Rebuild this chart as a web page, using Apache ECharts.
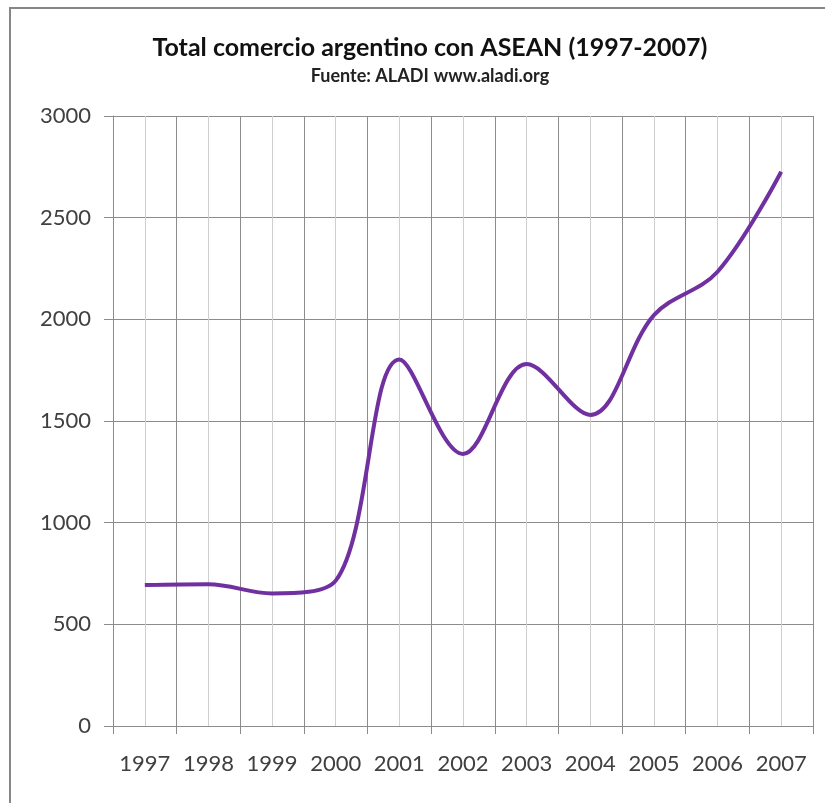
<!DOCTYPE html>
<html>
<head>
<meta charset="utf-8">
<script src="https://cdn.jsdelivr.net/npm/echarts@6/dist/echarts.min.js"></script>
<style>
  html, body { margin: 0; padding: 0; background: #fff; }
  #main { width: 825px; height: 803px; }
</style>
</head>
<body>
<div id="main"></div>
<script>
var chartDom = document.getElementById('main');
var myChart = echarts.init(chartDom);
var option;

// years on the x axis
const years = ['1997', '1998', '1999', '2000', '2001', '2002', '2003', '2004', '2005', '2006', '2007'];
// total trade
const totalComercio = [693, 697, 652, 715, 1803, 1338, 1780, 1530, 2021, 2234, 2726];

const fontFamily = 'Lato, "Open Sans", sans-serif';
const textColor = '#404040';
const darkGrid = '#8c8c8c';
const lightGrid = '#cfcfcf';

option = {
    backgroundColor: '#fff',
    animation: false,
    title: [
        {
            text: 'Total comercio argentino con ASEAN (1997-2007)',
            left: 425,
            top: 30,
            textAlign: 'center',
            textStyle: { fontFamily: fontFamily, fontSize: 25, fontWeight: 'bold', color: '#111' }
        },
        {
            text: '{b|Fuente: ALADI} {n|www.}{b|aladi}{n|.org}',
            left: 425,
            top: 62,
            textAlign: 'center',
            textStyle: {
                rich: {
                    b: { fontFamily: fontFamily, fontSize: 18, fontWeight: 'bold', color: '#222' },
                    n: { fontFamily: fontFamily, fontSize: 18, color: '#222' }
                }
            }
        }
    ],
    graphic: {
        elements: [
            {
                // chart area border, cut off on the right and bottom
                type: 'rect',
                shape: { x: 10, y: 8, width: 900, height: 900 },
                style: { fill: 'none', stroke: '#868686', lineWidth: 2 },
                silent: true
            }
        ]
    },
    grid: {
        left: 113,
        top: 116,
        right: 12,
        bottom: 77
    },
    xAxis: [
        {
            // only for the light grid lines at half steps
            type: 'value',
            position: 'top',
            min: 0,
            max: 22,
            interval: 1,
            axisLine: { show: false },
            axisTick: { show: false },
            axisLabel: { show: false },
            splitLine: { show: true, lineStyle: { color: lightGrid, width: 1 } }
        },
        {
            type: 'category',
            position: 'bottom',
            data: years,
            boundaryGap: true,
            axisLine: { show: true, lineStyle: { color: darkGrid, width: 1 } },
            axisTick: { show: true, length: 8, interval: 0, lineStyle: { color: darkGrid } },
            axisLabel: {
                interval: 0,
                color: textColor,
                fontFamily: fontFamily,
                fontSize: 22,
                margin: 27
            },
            splitLine: { show: true, interval: 0, lineStyle: { color: darkGrid, width: 1 } }
        }
    ],
    yAxis: {
        type: 'value',
        min: 0,
        max: 3000,
        interval: 500,
        axisLine: { show: true, lineStyle: { color: darkGrid, width: 1 } },
        axisTick: { show: true, length: 9, lineStyle: { color: darkGrid } },
        axisLabel: {
            color: textColor,
            fontFamily: fontFamily,
            fontSize: 22,
            margin: 22,
            formatter: function (v) {
                return String(v);
            }
        },
        splitLine: { show: true, lineStyle: { color: darkGrid, width: 1 } }
    },
    series: [
        {
            type: 'line',
            xAxisIndex: 1,
            data: totalComercio,
            smooth: 0.35,
            symbol: 'none',
            lineStyle: { color: '#7030a0', width: 4 }
        }
    ]
};

myChart.setOption(option);
</script>
</body>
</html>
